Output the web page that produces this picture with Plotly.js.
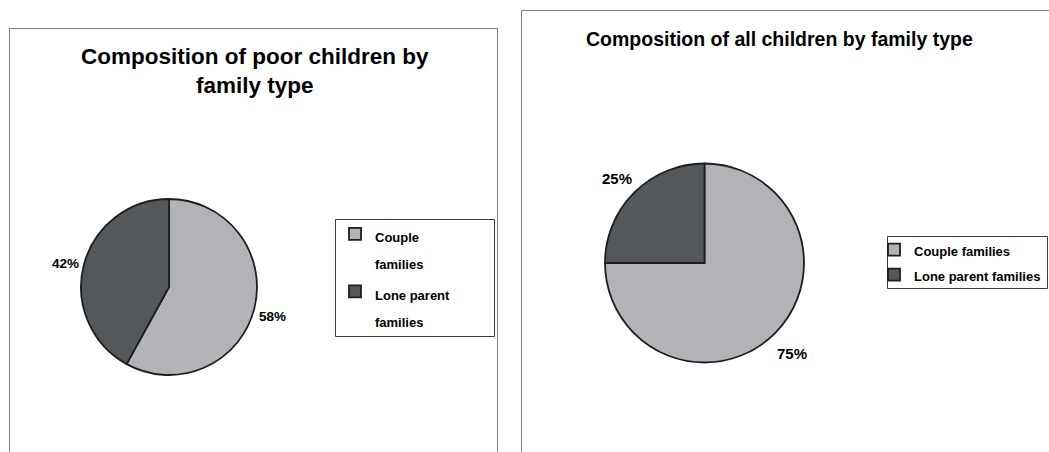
<!DOCTYPE html>
<html>
<head>
<meta charset="utf-8">
<script src="https://cdn.plot.ly/plotly-3.0.1.min.js"></script>
<style>
  html, body { margin: 0; padding: 0; background: #ffffff; }
  #chart { width: 1049px; height: 452px; }
</style>
</head>
<body>
<div id="chart"></div>
<script>
// Family types (legend entries) and their shares of children
const familyTypes = ['Couple families', 'Lone parent families'];
const poorShares = [58, 42];   // poor children, %
const allShares = [75, 25];    // all children, %

const titlePoor = 'Composition of poor children by<br>family type';
const titleAll = 'Composition of all children by family type';

// Legend wording: the poor-children legend wraps each label onto two lines
const legendPoor = ['Couple<br>families', 'Lone parent<br>families'];

const W = 1049, H = 452;
const FONT = 'Liberation Sans, Arial, sans-serif';
const sliceColors = ['#b1b3b6', '#55585b'];
const edge = { color: '#1e1e1e', width: 1.8 };

// pixel helpers (margins are zero, so paper == page)
const px = x => x / W;
const py = y => 1 - y / H;

// wrap every line of a label in a small span so the legend keeps a wide line pitch
function smallLines(text, size) {
  return text.split('<br>').map(s => `<span style="font-size:${size}px">${s}</span>`).join('<br>');
}

// pie geometry in page pixels
const poorPie = { cx: 169, cy: 287, r: 88, labelSize: 13.5, labelDist: 1.22 };
const allPie = { cx: 704.5, cy: 263, r: 99.5, labelSize: 15, labelDist: 1.24 };

function pieDomain(p) {
  return { x: [px(p.cx - p.r), px(p.cx + p.r)], y: [py(p.cy + p.r), py(p.cy - p.r)] };
}

function pieTrace(values, labels, p, legendId) {
  return {
    type: 'pie',
    values: values,
    labels: labels,
    sort: false,
    direction: 'clockwise',
    rotation: 0,
    domain: pieDomain(p),
    marker: { colors: sliceColors, line: edge },
    textinfo: 'none',
    hoverinfo: 'skip',
    legend: legendId,
    showlegend: true
  };
}

// percentage labels sit just outside each slice, on the slice's middle angle;
// a small downward nudge centres the digits (not the text box) on that point
function percentLabels(values, p) {
  const total = values.reduce((a, b) => a + b, 0);
  let cum = 0;
  return values.map(v => {
    const mid = 2 * Math.PI * (cum + v / 2) / total;
    cum += v;
    const d = p.r * p.labelDist;
    return {
      xref: 'paper', yref: 'paper',
      x: px(p.cx + d * Math.sin(mid)), y: py(p.cy - d * Math.cos(mid) + 3),
      xanchor: 'center', yanchor: 'middle', showarrow: false,
      text: Math.round(100 * v / total) + '%',
      font: { family: FONT, size: p.labelSize, color: '#000', weight: 'bold' }
    };
  });
}

const tracePoor = pieTrace(poorShares, legendPoor.map(t => smallLines(t, 13)), poorPie, 'legend');
const traceAll = pieTrace(allShares, familyTypes.map(t => smallLines(t, 13)), allPie, 'legend2');

const panelLine = { color: '#7f7f7f', width: 1 };
const boxLine = { color: '#3a3a3a', width: 1 };

function rect(x0, y0, x1, y1, line) {
  return { type: 'rect', xref: 'paper', yref: 'paper',
           x0: px(x0), x1: px(x1), y0: py(y1), y1: py(y0),
           line: line, fillcolor: 'rgba(0,0,0,0)', layer: 'below' };
}

const layout = {
  width: W, height: H,
  margin: { l: 0, r: 0, t: 0, b: 0, pad: 0, autoexpand: false },
  paper_bgcolor: '#ffffff',
  plot_bgcolor: '#ffffff',
  font: { family: FONT, color: '#000' },
  showlegend: true,
  legend: {
    x: px(335), y: py(213.7), xanchor: 'left', yanchor: 'top',
    orientation: 'v', valign: 'top',
    font: { family: FONT, size: 21, color: '#000', weight: 'bold' },
    bgcolor: 'rgba(0,0,0,0)', borderwidth: 0, traceorder: 'normal'
  },
  legend2: {
    x: px(874), y: py(232), xanchor: 'left', yanchor: 'top',
    orientation: 'v', valign: 'top',
    font: { family: FONT, size: 17, color: '#000', weight: 'bold' },
    bgcolor: 'rgba(0,0,0,0)', borderwidth: 0, traceorder: 'normal'
  },
  shapes: [
    rect(9.5, 28.5, 497.5, 470, panelLine),
    rect(521.5, 10.5, 1070, 470, panelLine),
    rect(335.5, 219.5, 494.5, 336.5, boxLine),
    rect(887.5, 236.5, 1047.5, 288.5, boxLine)
  ],
  annotations: [
    { xref: 'paper', yref: 'paper', x: px(255), y: py(71), xanchor: 'center', yanchor: 'middle',
      text: titlePoor, showarrow: false, align: 'center',
      font: { family: FONT, size: 22.5, color: '#000', weight: 'bold' } },
    { xref: 'paper', yref: 'paper', x: px(779), y: py(39), xanchor: 'center', yanchor: 'middle',
      text: titleAll, showarrow: false, align: 'center',
      font: { family: FONT, size: 19.5, color: '#000', weight: 'bold' } }
  ].concat(percentLabels(poorShares, poorPie), percentLabels(allShares, allPie))
};

Plotly.newPlot('chart', [tracePoor, traceAll], layout, { staticPlot: true, displayModeBar: false });
</script>
</body>
</html>
